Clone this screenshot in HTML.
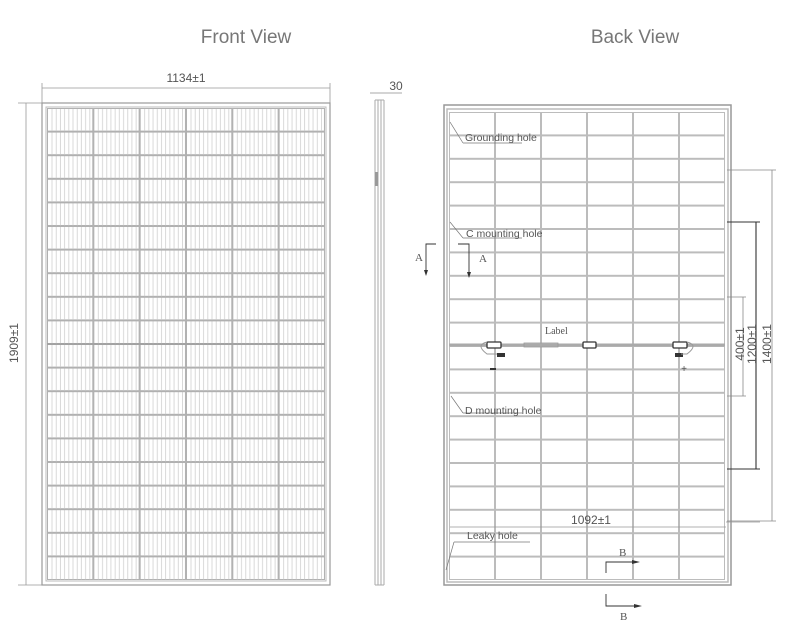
<!DOCTYPE html>
<html><head><meta charset="utf-8"><style>
html,body{margin:0;padding:0;background:#fff}
svg{display:block}
text{font-family:"Liberation Sans",sans-serif;fill:#555}
</style></head><body>
<svg width="800" height="629" viewBox="0 0 800 629" xmlns="http://www.w3.org/2000/svg">
<defs>
<pattern id="fc" x="47" y="108" width="46.33" height="23.6" patternUnits="userSpaceOnUse">
<rect x="0.5" y="0.5" width="45.3" height="22.6" fill="none" stroke="#b0b0b0" stroke-width="1"/>
<g stroke="#cfcfcf" stroke-width="0.8">
<line x1="5" y1="1" x2="5" y2="23"/><line x1="9.2" y1="1" x2="9.2" y2="23"/><line x1="13.4" y1="1" x2="13.4" y2="23"/><line x1="17.6" y1="1" x2="17.6" y2="23"/><line x1="21.8" y1="1" x2="21.8" y2="23"/><line x1="26" y1="1" x2="26" y2="23"/><line x1="30.2" y1="1" x2="30.2" y2="23"/><line x1="34.4" y1="1" x2="34.4" y2="23"/><line x1="38.6" y1="1" x2="38.6" y2="23"/><line x1="42.8" y1="1" x2="42.8" y2="23"/>
</g>
</pattern>
<pattern id="bc" x="449" y="112" width="46" height="23.4" patternUnits="userSpaceOnUse">
<rect x="0" y="0" width="46" height="23.4" fill="none" stroke="#bcbcbc" stroke-width="2"/>
</pattern>
</defs>

<text x="246" y="43" font-size="19" text-anchor="middle" fill="#777" style="fill:#777">Front View</text>
<text x="635" y="43" font-size="19" text-anchor="middle" fill="#777" style="fill:#777">Back View</text>

<g stroke="#999" stroke-width="0.8" fill="none">
<line x1="42" y1="88" x2="330" y2="88"/>
<line x1="42" y1="83" x2="42" y2="103"/><line x1="330" y1="83" x2="330" y2="103"/>
<line x1="26" y1="103" x2="26" y2="585"/>
<line x1="18" y1="103" x2="42" y2="103"/><line x1="18" y1="585" x2="42" y2="585"/>
</g>
<text x="186" y="82" font-size="12" text-anchor="middle">1134±1</text>
<text transform="translate(18,343) rotate(-90)" font-size="12" text-anchor="middle">1909±1</text>

<rect x="42" y="103" width="288" height="482" fill="none" stroke="#999" stroke-width="1.2"/>
<rect x="46" y="107" width="280" height="474" fill="none" stroke="#bbb" stroke-width="1"/>
<rect x="47" y="108" width="278" height="472" fill="url(#fc)"/>
<line x1="47" y1="344" x2="325" y2="344" stroke="#999" stroke-width="1.2"/>

<g stroke="#aaa" stroke-width="1" fill="none">
<line x1="375" y1="100" x2="375" y2="585"/><line x1="378" y1="100" x2="378" y2="585"/>
<line x1="381" y1="100" x2="381" y2="585"/><line x1="384" y1="100" x2="384" y2="585"/>
<line x1="375" y1="100" x2="384" y2="100"/><line x1="375" y1="585" x2="384" y2="585"/>
<line x1="370" y1="93" x2="402" y2="93"/>
</g>
<rect x="375" y="172" width="3" height="14" fill="#999"/>
<text x="396" y="90" font-size="12" text-anchor="middle">30</text>

<rect x="444" y="105" width="287" height="480" fill="none" stroke="#999" stroke-width="1.5"/>
<rect x="447" y="109" width="281" height="473" fill="none" stroke="#bbb" stroke-width="1.5"/>
<rect x="449" y="112" width="276" height="468" fill="url(#bc)"/>
<line x1="449" y1="345" x2="725" y2="345" stroke="#aaa" stroke-width="3"/>

<g stroke="#333" stroke-width="1.3" fill="#fff">
<rect x="487" y="342" width="14" height="6" rx="1"/>
<rect x="583" y="342" width="13" height="6" rx="1"/>
<rect x="673" y="342" width="14" height="6" rx="1"/>
</g>
<rect x="497" y="353" width="8" height="4" fill="#333"/>
<rect x="675" y="353" width="8" height="4" fill="#333"/>
<path d="M487 342 q-12 3 0 12 h10" stroke="#999" fill="none"/>
<path d="M687 342 q12 3 0 12 h-6" stroke="#999" fill="none"/>
<rect x="524" y="343" width="34" height="4" fill="none" stroke="#999" stroke-width="0.8"/>
<text x="545" y="334" font-size="10" style="font-family:'Liberation Serif',serif">Label</text>
<line x1="490" y1="369" x2="496" y2="369" stroke="#333" stroke-width="2"/>
<text x="684" y="372" font-size="10" text-anchor="middle">+</text>

<g stroke="#777" stroke-width="0.7" fill="none">
<line x1="450" y1="122" x2="463" y2="143"/><line x1="463" y1="143" x2="522" y2="143"/>
<line x1="450" y1="222" x2="463" y2="238"/><line x1="463" y1="238" x2="522" y2="238"/>
<line x1="451" y1="396" x2="463" y2="413"/><line x1="463" y1="413" x2="522" y2="413"/>
<line x1="446" y1="570" x2="454" y2="542"/><line x1="454" y1="542" x2="530" y2="542"/>
</g>
<text x="465" y="141" font-size="10.5">Grounding hole</text>
<text x="466" y="237" font-size="10.5">C mounting hole</text>
<text x="465" y="414" font-size="10.5">D mounting hole</text>
<text x="467" y="539" font-size="10.5">Leaky hole</text>

<g stroke="#333" stroke-width="0.9" fill="none">
<polyline points="436,244 426,244 426,272"/>
<polyline points="458,244 469,244 469,274"/>
</g>
<path d="M424 270 L426 276 L428 270Z M467 272 L469 278 L471 272Z" fill="#333"/>
<text x="415" y="261" font-size="11" style="font-family:'Liberation Serif',serif">A</text>
<text x="479" y="262" font-size="11" style="font-family:'Liberation Serif',serif">A</text>

<g stroke="#333" stroke-width="0.9" fill="none">
<polyline points="606,573 606,562 634,562"/>
<polyline points="606,594 606,606 636,606"/>
</g>
<path d="M632 560 L640 562 L632 564Z M634 604 L642 606 L634 608Z" fill="#333"/>
<text x="619" y="556" font-size="11" style="font-family:'Liberation Serif',serif">B</text>
<text x="620" y="620" font-size="11" style="font-family:'Liberation Serif',serif">B</text>

<line x1="450" y1="527" x2="726" y2="527" stroke="#999" stroke-width="0.8"/>
<line x1="726" y1="522" x2="760" y2="522" stroke="#999" stroke-width="0.8"/>
<text x="591" y="524" font-size="12" text-anchor="middle">1092±1</text>

<g stroke="#888" stroke-width="0.8" fill="none">
<line x1="727" y1="170" x2="776" y2="170"/><line x1="727" y1="521" x2="776" y2="521"/>
<line x1="772" y1="170" x2="772" y2="521"/>
<line x1="727" y1="297" x2="746" y2="297"/><line x1="727" y1="396" x2="746" y2="396"/>
<line x1="743" y1="297" x2="743" y2="396"/>
</g>
<g stroke="#333" stroke-width="1.1" fill="none">
<line x1="727" y1="222" x2="760" y2="222"/><line x1="727" y1="469" x2="760" y2="469"/>
<line x1="756" y1="222" x2="756" y2="469"/>
</g>
<text transform="translate(744,344) rotate(-90)" font-size="12" text-anchor="middle">400±1</text>
<text transform="translate(756,344) rotate(-90)" font-size="12" text-anchor="middle">1200±1</text>
<text transform="translate(771,344) rotate(-90)" font-size="12" text-anchor="middle">1400±1</text>
</svg>
</body></html>
